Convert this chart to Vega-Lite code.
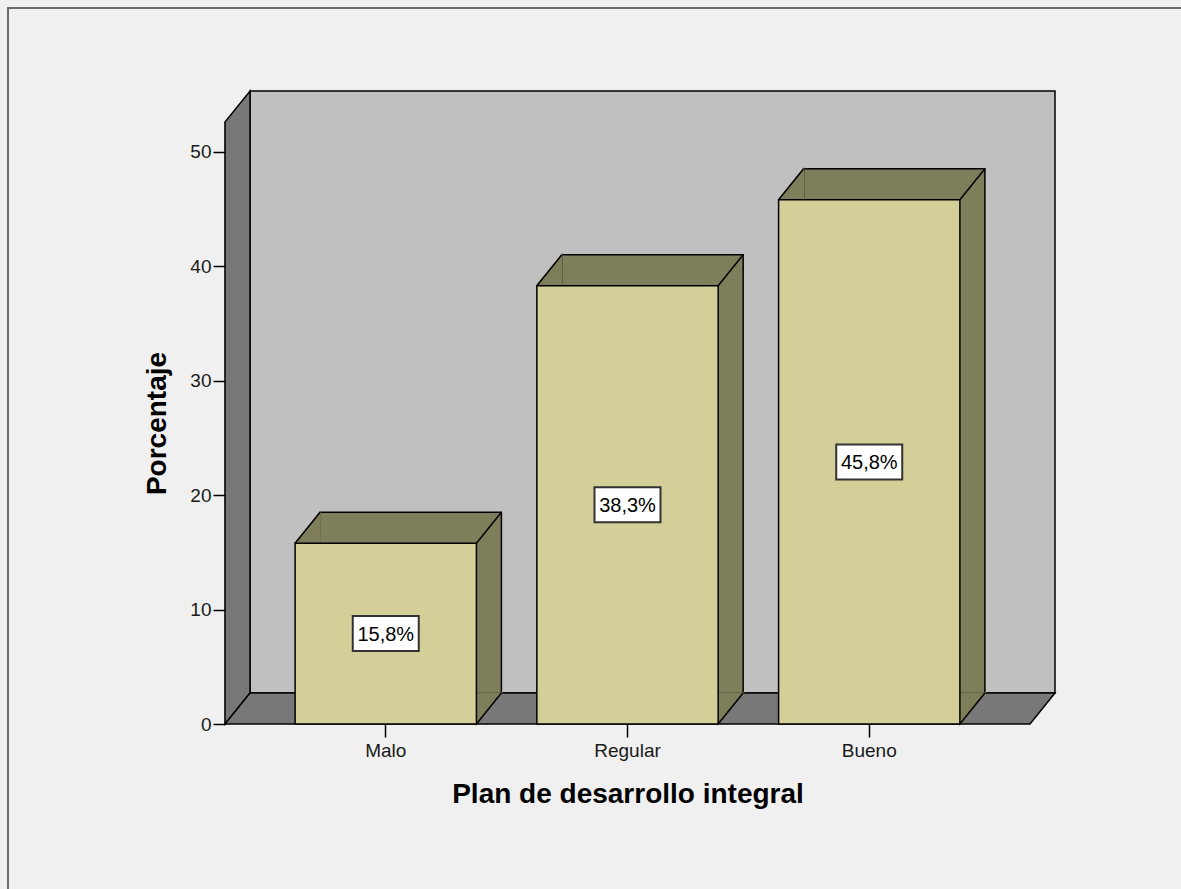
{
  "$schema": "https://vega.github.io/schema/vega-lite/v6.json",
  "width": 1176,
  "height": 884,
  "autosize": {"type": "none"},
  "padding": {"left": 8, "top": 8, "right": -3, "bottom": -3},
  "background": "#f0f0f0",
  "config": {
    "font": "Liberation Sans",
    "view": {"fill": "#f0f0f0", "stroke": "#6a6a6a", "strokeWidth": 2},
    "axis": {"grid": false}
  },
  "data": {
    "values": [
      {"cat": "Malo", "pct": 15.8, "label": "15,8%"},
      {"cat": "Regular", "pct": 38.3, "label": "38,3%"},
      {"cat": "Bueno", "pct": 45.8, "label": "45,8%"}
    ]
  },
  "resolve": {"scale": {"x": "independent", "y": "independent"}},
  "layer": [
    {
      "data": {"values": [{}]},
      "mark": {"type": "rect", "fill": "#c0c0c0", "stroke": "#000000", "strokeWidth": 1.5, "xOffset": 25, "x2Offset": 25, "yOffset": -31, "y2Offset": -31},
      "encoding": {
        "x": {"datum": 0, "type": "quantitative", "scale": {"domain": [0, 1], "range": [217, 1022], "nice": false, "zero": false}, "axis": null},
        "x2": {"datum": 1},
        "y": {"datum": 0, "type": "quantitative", "scale": {"domain": [0, 52.6], "range": [716, 114], "nice": false, "zero": false}, "axis": null},
        "y2": {"datum": 52.6}
      }
    },
    {
      "data": {"values": [{}]},
      "mark": {"type": "point", "shape": "M0,0 L0,-602 L25,-633 L25,-31 Z", "size": 4, "filled": true, "fill": "#787878", "stroke": "#000000", "strokeWidth": 1.5, "opacity": 1},
      "encoding": {
        "x": {"datum": 0, "type": "quantitative", "scale": {"domain": [0, 1], "range": [217, 1022], "nice": false, "zero": false}, "axis": null},
        "y": {"datum": 0, "type": "quantitative", "scale": {"domain": [0, 52.6], "range": [716, 114], "nice": false, "zero": false}, "axis": null}
      }
    },
    {
      "data": {"values": [{}]},
      "mark": {"type": "point", "shape": "M0,0 L805,0 L830,-31 L25,-31 Z", "size": 4, "filled": true, "fill": "#787878", "stroke": "#000000", "strokeWidth": 1.5, "opacity": 1},
      "encoding": {
        "x": {"datum": 0, "type": "quantitative", "scale": {"domain": [0, 1], "range": [217, 1022], "nice": false, "zero": false}, "axis": null},
        "y": {"datum": 0, "type": "quantitative", "scale": {"domain": [0, 52.6], "range": [716, 114], "nice": false, "zero": false}, "axis": null}
      }
    },
    {
      "mark": {"type": "bar", "fill": "#7f7e5a", "stroke": "#000000", "strokeWidth": 1.5, "xOffset": 25, "yOffset": -31, "y2Offset": -31},
      "encoding": {
        "x": {"field": "cat", "type": "nominal", "sort": null, "scale": {"type": "band", "domain": ["Malo", "Regular", "Bueno"], "range": [217, 1022], "paddingInner": 0.25, "paddingOuter": 0.29}, "axis": null},
        "y": {"field": "pct", "type": "quantitative", "scale": {"domain": [0, 52.6], "range": [716, 114], "nice": false, "zero": false}, "axis": null}
      }
    },
    {
      "mark": {"type": "point", "shape": "M-90.65,0 L-65.65,-31 L-65.65,0 Z", "size": 4, "filled": true, "fill": "#7f7e5a", "stroke": "#7f7e5a", "strokeWidth": 1.5, "opacity": 1},
      "encoding": {
        "x": {"field": "cat", "type": "nominal", "sort": null, "scale": {"type": "band", "domain": ["Malo", "Regular", "Bueno"], "range": [217, 1022], "paddingInner": 0.25, "paddingOuter": 0.29}, "axis": null},
        "y": {"field": "pct", "type": "quantitative", "scale": {"domain": [0, 52.6], "range": [716, 114], "nice": false, "zero": false}, "axis": null}
      }
    },
    {
      "mark": {"type": "point", "shape": "M90.65,0 L115.65,-31 L90.65,-31 Z", "size": 4, "filled": true, "fill": "#7f7e5a", "stroke": "#7f7e5a", "strokeWidth": 1.5, "opacity": 1},
      "encoding": {
        "x": {"field": "cat", "type": "nominal", "sort": null, "scale": {"type": "band", "domain": ["Malo", "Regular", "Bueno"], "range": [217, 1022], "paddingInner": 0.25, "paddingOuter": 0.29}, "axis": null},
        "y": {"datum": 0, "type": "quantitative", "scale": {"domain": [0, 52.6], "range": [716, 114], "nice": false, "zero": false}, "axis": null}
      }
    },
    {
      "mark": {"type": "bar", "fill": "#d4cf98", "stroke": "#000000", "strokeWidth": 1.5},
      "encoding": {
        "x": {
          "field": "cat", "type": "nominal", "sort": null,
          "scale": {"type": "band", "domain": ["Malo", "Regular", "Bueno"], "range": [217, 1022], "paddingInner": 0.25, "paddingOuter": 0.29},
          "axis": {
            "orient": "bottom", "offset": -168, "title": "Plan de desarrollo integral", "labelAngle": 0,
            "domain": false, "ticks": true, "tickSize": 13, "tickColor": "#000000", "tickWidth": 1.5,
            "labelFont": "Liberation Sans", "labelFontSize": 19, "labelColor": "#1a1a1a", "labelPadding": 4,
            "titleFont": "Liberation Sans", "titleFontSize": 28, "titleFontWeight": "bold", "titleColor": "#000000", "titlePadding": 20
          }
        },
        "y": {
          "field": "pct", "type": "quantitative",
          "scale": {"domain": [0, 52.6], "range": [716, 114], "nice": false, "zero": false},
          "axis": {
            "orient": "left", "offset": -217, "title": "Porcentaje", "values": [0, 10, 20, 30, 40, 50],
            "domain": true, "domainColor": "#000000", "domainWidth": 1.5,
            "tickSize": 12, "tickColor": "#000000", "tickWidth": 1.5,
            "labelFont": "Liberation Sans", "labelFontSize": 19, "labelColor": "#1a1a1a", "labelPadding": 2,
            "titleFont": "Liberation Sans", "titleFontSize": 28, "titleFontWeight": "bold", "titleColor": "#000000", "titlePadding": 18
          }
        }
      }
    },
    {
      "mark": {"type": "point", "shape": "M-90.65,0 L-65.65,-31 M90.65,0 L115.65,-31", "size": 4, "filled": false, "stroke": "#000000", "strokeWidth": 1.5, "opacity": 1},
      "encoding": {
        "x": {"field": "cat", "type": "nominal", "sort": null, "scale": {"type": "band", "domain": ["Malo", "Regular", "Bueno"], "range": [217, 1022], "paddingInner": 0.25, "paddingOuter": 0.29}, "axis": null},
        "y": {"field": "pct", "type": "quantitative", "scale": {"domain": [0, 52.6], "range": [716, 114], "nice": false, "zero": false}, "axis": null}
      }
    },
    {
      "mark": {"type": "point", "shape": "M90.65,0 L115.65,-31", "size": 4, "filled": false, "stroke": "#000000", "strokeWidth": 1.5, "opacity": 1},
      "encoding": {
        "x": {"field": "cat", "type": "nominal", "sort": null, "scale": {"type": "band", "domain": ["Malo", "Regular", "Bueno"], "range": [217, 1022], "paddingInner": 0.25, "paddingOuter": 0.29}, "axis": null},
        "y": {"datum": 0, "type": "quantitative", "scale": {"domain": [0, 52.6], "range": [716, 114], "nice": false, "zero": false}, "axis": null}
      }
    },
    {
      "mark": {"type": "point", "shape": "M-33,-17.5 L33,-17.5 L33,17.5 L-33,17.5 Z", "size": 4, "filled": true, "fill": "#ffffff", "stroke": "#333333", "strokeWidth": 2, "opacity": 1},
      "encoding": {
        "x": {"field": "cat", "type": "nominal", "sort": null, "scale": {"type": "band", "domain": ["Malo", "Regular", "Bueno"], "range": [217, 1022], "paddingInner": 0.25, "paddingOuter": 0.29}, "axis": null},
        "y": {"field": "pct", "type": "quantitative", "scale": {"domain": [0, 105.2], "range": [716, 114], "nice": false, "zero": false}, "axis": null}
      }
    },
    {
      "mark": {"type": "text", "font": "Liberation Sans", "fontSize": 20, "color": "#000000", "align": "center", "baseline": "middle", "dy": 1},
      "encoding": {
        "x": {"field": "cat", "type": "nominal", "sort": null, "scale": {"type": "band", "domain": ["Malo", "Regular", "Bueno"], "range": [217, 1022], "paddingInner": 0.25, "paddingOuter": 0.29}, "axis": null},
        "y": {"field": "pct", "type": "quantitative", "scale": {"domain": [0, 105.2], "range": [716, 114], "nice": false, "zero": false}, "axis": null},
        "text": {"field": "label"}
      }
    }
  ]
}
